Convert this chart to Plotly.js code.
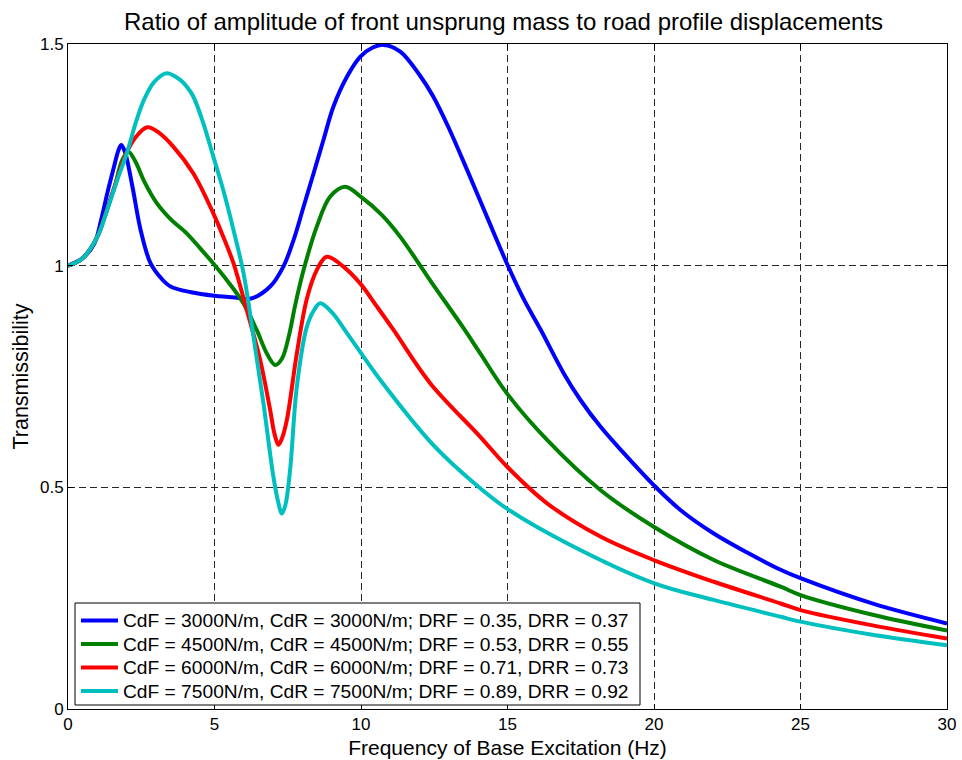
<!DOCTYPE html>
<html>
<head>
<meta charset="utf-8">
<script src="https://cdn.plot.ly/plotly-3.0.1.min.js"></script>
<style>html,body{margin:0;padding:0;background:#fff;}#chart{width:962px;height:760px;}</style>
</head>
<body>
<div id="chart"></div>
<script>
// Frequency (Hz) / transmissibility
const blueX = [0, 0.5, 0.9, 1.13, 1.34, 1.57, 1.72, 1.82, 1.95, 2.2, 2.48, 2.82, 3.2, 3.5, 4.2, 5.0, 5.7, 6.25, 6.9, 7.35, 7.7, 8.04, 8.38, 8.72, 9.06, 9.52, 9.97, 10.4, 10.77, 11.34, 12.0, 12.47, 13.0, 13.62, 14.3, 14.98, 15.55, 16.12, 16.92, 17.49, 18.17, 18.97, 19.99, 20.9, 22.04, 23.18, 24.32, 25, 27.5, 30];
const blueY = [1.0, 1.017, 1.05, 1.103, 1.163, 1.223, 1.26, 1.272, 1.255, 1.178, 1.08, 1.005, 0.97, 0.953, 0.94, 0.932, 0.928, 0.926, 0.953, 0.998, 1.058, 1.133, 1.208, 1.284, 1.359, 1.426, 1.471, 1.492, 1.498, 1.483, 1.43, 1.381, 1.31, 1.216, 1.11, 1.005, 0.925, 0.857, 0.757, 0.697, 0.637, 0.577, 0.505, 0.449, 0.396, 0.353, 0.314, 0.295, 0.237, 0.193];

const greenX = [0, 0.5, 1.0, 1.25, 1.5, 1.6, 1.85, 2.06, 2.3, 2.6, 3.03, 3.5, 4.05, 4.5, 4.96, 5.45, 5.99, 6.44, 6.8, 7.07, 7.3, 7.55, 7.75, 8.04, 8.49, 8.95, 9.46, 10.0, 10.7, 11.34, 12.4, 13.5, 14.07, 14.98, 16.35, 18.17, 19.99, 22.04, 24.32, 25, 27.5, 30];
const greenY = [1.0, 1.017, 1.065, 1.11, 1.16, 1.18, 1.238, 1.257, 1.235, 1.19, 1.141, 1.105, 1.073, 1.04, 1.005, 0.965, 0.915, 0.855, 0.8, 0.776, 0.79, 0.845, 0.91, 0.99, 1.088, 1.156, 1.178, 1.155, 1.115, 1.065, 0.963, 0.859, 0.802, 0.712, 0.607, 0.494, 0.411, 0.336, 0.276, 0.257, 0.212, 0.177];

const redX = [0, 0.5, 1.0, 1.25, 1.5, 1.75, 2.0, 2.31, 2.71, 3.1, 3.6, 4.28, 4.96, 5.3, 5.65, 6.1, 6.56, 6.9, 7.05, 7.18, 7.3, 7.47, 7.81, 8.15, 8.49, 8.83, 9.4, 9.97, 10.54, 11.11, 12.36, 14.07, 14.98, 16.35, 18.17, 19.99, 22.04, 24.32, 25, 27.5, 30];
const redY = [1.0, 1.017, 1.065, 1.11, 1.16, 1.21, 1.255, 1.29, 1.312, 1.3, 1.268, 1.208, 1.118, 1.065, 1.005, 0.9, 0.787, 0.674, 0.62, 0.596, 0.61, 0.652, 0.802, 0.925, 0.99, 1.02, 0.998, 0.96, 0.908, 0.855, 0.735, 0.614, 0.547, 0.464, 0.389, 0.336, 0.287, 0.238, 0.223, 0.188, 0.159];

const cyanX = [0, 0.5, 1.0, 1.34, 1.68, 2.03, 2.3, 2.6, 2.95, 3.37, 3.83, 4.05, 4.28, 4.62, 4.96, 5.3, 5.65, 5.99, 6.33, 6.67, 7.01, 7.18, 7.3, 7.42, 7.58, 7.81, 8.15, 8.4, 8.61, 9.0, 9.52, 10.66, 12.36, 13.2, 14.07, 14.98, 17.03, 19.99, 22.04, 24.32, 25, 27.5, 30];
const cyanY = [1.0, 1.017, 1.065, 1.126, 1.193, 1.258, 1.32, 1.375, 1.415, 1.434, 1.419, 1.404, 1.381, 1.321, 1.246, 1.17, 1.08, 0.983, 0.84, 0.69, 0.524, 0.465, 0.441, 0.46, 0.539, 0.727, 0.862, 0.9, 0.915, 0.895, 0.848, 0.742, 0.603, 0.548, 0.498, 0.452, 0.374, 0.284, 0.246, 0.208, 0.197, 0.167, 0.144];

const seriesNames = [
  'CdF = 3000N/m, CdR = 3000N/m; DRF = 0.35, DRR = 0.37',
  'CdF = 4500N/m, CdR = 4500N/m; DRF = 0.53, DRR = 0.55',
  'CdF = 6000N/m, CdR = 6000N/m; DRF = 0.71, DRR = 0.73',
  'CdF = 7500N/m, CdR = 7500N/m; DRF = 0.89, DRR = 0.92'
];
const seriesColors = ['#0000FF', '#008000', '#FF0000', '#00BFBF'];
const xTickVals = [0, 5, 10, 15, 20, 25, 30];
const yTickVals = [0, 0.5, 1, 1.5];

const xs = [blueX, greenX, redX, cyanX];
const ys = [blueY, greenY, redY, cyanY];
const traces = xs.map((x, i) => ({
  type: 'scatter', mode: 'lines', x: x, y: ys[i], name: seriesNames[i], showlegend: false,
  line: {color: seriesColors[i], width: 4, shape: 'spline', smoothing: 1}
}));

const FONT = 'Liberation Sans, Arial, Helvetica, sans-serif';

// Plot area in pixels (for the MATLAB-style legend box placed in paper coords)
const W = 962, H = 760, ML = 68, MR = 15, MT = 44, MB = 51;
const PW = W - ML - MR, PH = H - MT - MB;
const px = v => (v - ML) / PW;
const py = v => (H - MB - v) / PH;
const legendRows = [620.5, 644, 667.5, 691];

const shapes = [{
  type: 'rect', xref: 'paper', yref: 'paper',
  x0: px(75), x1: px(640), y0: py(705), y1: py(603),
  line: {color: '#000', width: 1}, fillcolor: '#fff', layer: 'above'
}];
const annotations = [];
seriesNames.forEach((name, i) => {
  shapes.push({type: 'line', xref: 'paper', yref: 'paper',
    x0: px(81), x1: px(118), y0: py(legendRows[i]), y1: py(legendRows[i]),
    line: {color: seriesColors[i], width: 4}, layer: 'above'});
  annotations.push({xref: 'paper', yref: 'paper', x: px(121), y: py(legendRows[i]),
    xanchor: 'left', yanchor: 'middle', showarrow: false, text: name,
    font: {family: FONT, size: 19.2, color: '#000'}});
});

const axisCommon = {
  showline: true, linecolor: '#000', linewidth: 1, mirror: 'ticks',
  ticks: 'inside', ticklen: 5, tickcolor: '#000', tickwidth: 1,
  showgrid: true, gridcolor: '#262626', gridwidth: 1, griddash: '7px,4px',
  zeroline: false, tickfont: {family: FONT, size: 17, color: '#000'}
};

const layout = {
  width: W, height: H,
  margin: {l: ML, r: MR, t: MT, b: MB, pad: 0},
  paper_bgcolor: '#fff', plot_bgcolor: '#fff',
  font: {family: FONT, color: '#000'},
  title: {text: 'Ratio of amplitude of front unsprung mass to road profile displacements',
          font: {family: FONT, size: 24, color: '#000'}, xref: 'paper', x: 0.4955, xanchor: 'center', y: 0.972, yanchor: 'middle'},
  xaxis: Object.assign({}, axisCommon, {
    range: [0, 30], tickvals: xTickVals, automargin: false,
    title: {text: 'Frequency of Base Excitation (Hz)', font: {family: FONT, size: 21, color: '#000'}, standoff: 6}
  }),
  yaxis: Object.assign({}, axisCommon, {
    range: [0, 1.5], tickvals: yTickVals, automargin: false,
    title: {text: 'Transmissibility', font: {family: FONT, size: 21.5, color: '#000'}, standoff: 5}
  }),
  showlegend: false,
  shapes: shapes,
  annotations: annotations
};

Plotly.newPlot('chart', traces, layout, {displayModeBar: false, staticPlot: true});
</script>
</body>
</html>
